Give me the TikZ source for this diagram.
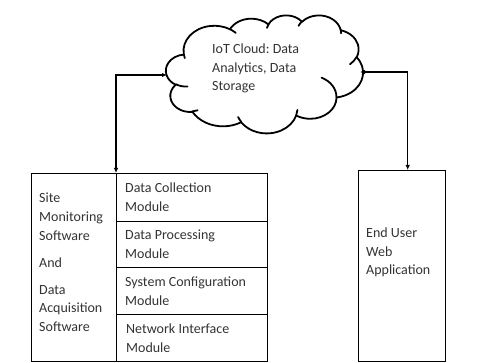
\documentclass[tikz,border=0pt]{standalone}
\usepackage{fontspec}
\setmainfont{Carlito}
\frenchspacing
\usetikzlibrary{arrows.meta}
\tikzset{
  boxline/.style={draw=black, line width=1.4pt, inner sep=0pt, anchor=north west},
  txt/.style={font=\fontsize{14}{18.7}\selectfont, align=left, inner sep=0pt, anchor=west, text=black!80},
  link/.style={line width=1.4pt, {Latex[length=5pt,width=4.5pt]}-{Latex[length=5pt,width=4.5pt]}},
  cloudline/.style={line width=1.8pt, line cap=round, line join=round},
}
\begin{document}
\begin{tikzpicture}[x=1pt,y=-1pt]
\useasboundingbox (0,0) rectangle (495,363);

% cloud outline: chain of elliptical arcs in a 43.2 x 43.2 frame
\begin{scope}[shift={(166,15)}, x=4.560pt, y=-2.731pt]
  \coordinate (cl) at (3.900,14.370);
  \foreach \w/\h/\s/\d in {
      6.753/9.190/-190.48748/123.78053,
      5.333/7.267/-144.10238/89.94523,
      4.365/5.945/-145.80792/99.72302,
      4.857/6.595/-130.98607/117.24173,
      5.333/7.273/-78.70888/109.02692,
      6.775/9.220/-46.26725/130.269,
      5.785/7.867/0.62502/114.03333,
      6.752/9.215/22.4516/115.17255,
      7.720/10.543/66.24263/75.71102,
      4.360/5.918/-274.94208/146.73557,
      4.345/5.945/-246.8285/152.51885} {
    \pgfmathsetmacro\ta{atan2(\w*sin(\s),\h*cos(\s))}
    \pgfmathsetmacro\tb{atan2(\w*sin(\s+\d),\h*cos(\s+\d))}
    \pgfmathsetmacro\dd{mod(\tb-\ta+720,360)}
    \draw[cloudline] (cl) arc[start angle=\ta, delta angle=\dd, x radius=\w, y radius=\h] coordinate (cl);
  }
  % inner creases of the puffs
  \foreach \x/\y/\w/\h/\s/\d in {
      4.693/26.177/4.345/5.945/86.742/26.4295,
      6.928/34.899/4.360/5.918/73.61047/11.44747,
      16.478/39.090/6.752/9.215/137.62415/14.0811,
      28.827/34.751/6.752/9.215/6.45327/15.99835,
      34.129/22.954/5.785/7.867/-70.29235/70.91737,
      41.798/15.354/5.333/7.273/30.31803/27.7515,
      38.324/5.426/4.857/6.595/-13.74433/14.8589,
      29.078/3.952/4.857/6.595/-149.18145/18.19537,
      22.141/4.720/4.365/5.945/-163.49427/17.68635,
      14.000/5.192/6.753/9.190/-66.70695/12.31935,
      4.127/15.789/6.753/9.190/157.65435/11.85817} {
    \pgfmathsetmacro\ta{atan2(\w*sin(\s),\h*cos(\s))}
    \pgfmathsetmacro\tb{atan2(\w*sin(\s+\d),\h*cos(\s+\d))}
    \pgfmathsetmacro\dd{mod(\tb-\ta+720,360)}
    \draw[cloudline] (\x,\y) arc[start angle=\ta, delta angle=\dd, x radius=\w, y radius=\h];
  }
\end{scope}

\node[txt] (cloudtxt) at (212,68.5) {\strut IoT Cloud: Data\\Analytics, Data\\Storage\strut};
\coordinate (cloudL) at (167,75);
\coordinate (cloudR) at (360,72);

% site software block
\node[boxline, minimum width=85pt, minimum height=188pt] (sw) at (31,173) {};
\node[boxline, minimum width=151pt, minimum height=48pt] (m1) at (116,173) {};
\node[boxline, minimum width=151pt, minimum height=46pt] (m2) at (116,221) {};
\node[boxline, minimum width=151pt, minimum height=47pt] (m3) at (116,267) {};
\node[boxline, minimum width=151pt, minimum height=47pt] (m4) at (116,314) {};

\node[txt] (swtxt) at (39,263.5) {\strut Site\\Monitoring\\Software\\[8.3pt]And\\[8.3pt]Data\\Acquisition\\Software\strut};
\node[txt] (m1txt) at (125,198.5) {\strut Data Collection\\Module\strut};
\node[txt] (m2txt) at (125,245.5) {\strut Data Processing\\Module\strut};
\node[txt] (m3txt) at (125,292.5) {\strut System Configuration\\Module\strut};
\node[txt] (m4txt) at (126,339) {\strut Network Interface\\Module\strut};

% end user block
\node[boxline, minimum width=87pt, minimum height=191pt] (eu) at (358,170) {};
\node[txt] (eutxt) at (366,252.5) {\strut End User\\Web\\Application\strut};

% links to the cloud
\draw[link] (cloudL) -| (m1.north west);
\draw[link] (cloudR) -| ([xshift=5.5pt]eu.north);
\end{tikzpicture}
\end{document}
